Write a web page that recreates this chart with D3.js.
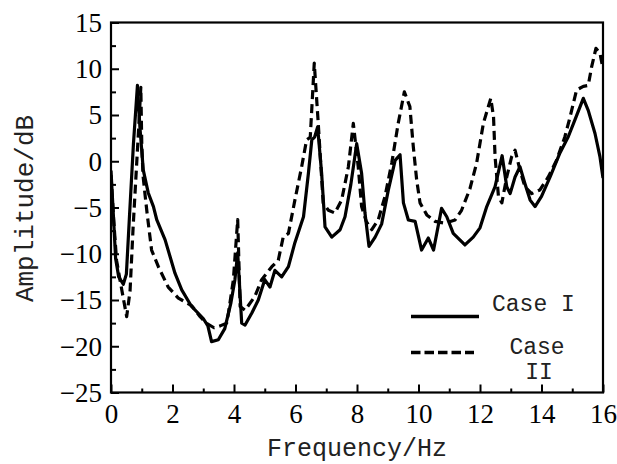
<!DOCTYPE html>
<html>
<head>
<meta charset="utf-8">
<script src="https://cdn.jsdelivr.net/npm/d3@7"></script>
<style>
html,body{margin:0;padding:0;background:#fff;}
svg{display:block;}
</style>
</head>
<body>
<svg id="chart" width="617" height="464"></svg>
<script>
// ---- data ----
const freqCaseI = [0,0.08,0.15,0.25,0.4,0.5,0.6,0.73,0.86,0.94,1.05,1.21,1.38,1.49,1.76,2.08,2.3,2.62,3.0,3.15,3.27,3.49,3.7,3.9,4.03,4.12,4.25,4.36,4.58,4.79,5.0,5.17,5.33,5.55,5.77,5.98,6.26,6.42,6.53,6.62,6.72,6.85,6.96,7.18,7.45,7.61,7.8,7.99,8.15,8.26,8.39,8.59,8.8,9.02,9.24,9.4,9.51,9.67,9.89,10.1,10.32,10.49,10.75,10.92,11.13,11.51,11.78,12.0,12.22,12.49,12.72,12.87,12.98,13.14,13.3,13.46,13.63,13.79,14.0,14.28,14.6,14.87,15.09,15.36,15.52,15.74,15.9,16.0];
const ampCaseI  = [-1,-6,-10.5,-12.5,-13.3,-12.2,-6,1.9,8.2,3.7,-0.95,-3.4,-4.9,-6.35,-8.5,-12.1,-13.9,-15.7,-17,-17.8,-19.5,-19.3,-18.1,-15.3,-12.8,-9.9,-17.5,-17.7,-16.4,-15,-12.8,-13.6,-11.8,-12.5,-11.4,-8.8,-6,-1.3,2.3,2.6,3.7,-1.3,-7.1,-8.2,-7.4,-6,-2.5,1.9,-1.3,-5.6,-9.2,-8.2,-6.8,-3.1,0.1,0.7,-4.5,-6.35,-6.5,-9.6,-8.3,-9.6,-5.1,-6,-7.8,-9.05,-8.2,-7.2,-4.9,-2.75,0.6,-2.75,-3.5,-1.7,-0.6,-2.4,-4.2,-4.9,-3.8,-1.7,0.9,2.65,4.5,6.8,5.5,3.0,0.5,-1.8];

const freqCaseII = [0,0.08,0.18,0.35,0.51,0.62,0.72,0.89,0.97,1.0,1.04,1.1,1.18,1.32,1.54,1.86,2.19,2.3,2.62,2.9,3.1,3.35,3.55,3.76,3.82,3.98,4.12,4.2,4.36,4.68,4.9,5.23,5.44,5.6,5.77,5.98,6.2,6.36,6.48,6.61,6.74,6.9,7.07,7.28,7.5,7.72,7.88,8.04,8.15,8.3,8.48,8.69,8.91,9.13,9.34,9.54,9.72,9.83,9.94,10.05,10.27,10.54,10.86,11.19,11.4,11.67,11.89,12.11,12.35,12.44,12.49,12.6,12.71,12.87,13.03,13.14,13.3,13.46,13.68,13.95,14.22,14.49,14.76,14.93,15.14,15.36,15.52,15.63,15.77,15.9,16.0];
const ampCaseII  = [-1.5,-6,-10.7,-13.9,-16.8,-14,-7.1,3,8.0,2,-1.5,-3.4,-5.8,-9.6,-11.4,-13.6,-14.8,-15,-15.6,-16.8,-17.5,-18.0,-17.8,-17.5,-16.4,-12.8,-6.3,-15.7,-16.1,-14.6,-12.8,-11.4,-10.7,-8.2,-7.8,-4.2,-0.6,2.3,2.6,10.6,4.1,-4.5,-5.3,-5.6,-4.2,-0.6,4.1,-0.6,-4.9,-6.5,-7.4,-6.35,-3.8,-0.2,4.1,7.5,5.9,1.6,-2,-4.5,-5.8,-6.5,-6.7,-6.35,-5.3,-3,-0.2,4.1,6.8,4.8,0.5,-3.8,-4.5,-1.7,0.5,1.2,-0.95,-2.75,-3.5,-3.1,-1.7,0.1,2.65,4.8,7.7,8.1,8.2,10.2,12.2,11.7,10];

const xMajorTicks = [0,2,4,6,8,10,12,14,16];
const xMinorTicks = [1,3,5,7,9,11,13,15];
const yMajorTicks = [-25,-20,-15,-10,-5,0,5,10,15];
const yMinorTicks = [-22.5,-17.5,-12.5,-7.5,-2.5,2.5,7.5,12.5];
const xTitle = "Frequency/Hz";
const yTitle = "Amplitude/dB";
const seriesNames = ["Case I", "Case", "II"];

// ---- layout ----
const svg = d3.select("#chart");
const L = 111, R = 603, T = 22.5, B = 392.5;
const x = d3.scaleLinear().domain([0,16]).range([L,R]);
const y = d3.scaleLinear().domain([-25,15]).range([B,T]);

// axes (ticks inward)
const gxMaj = svg.append("g").attr("transform",`translate(0,${B})`)
  .call(d3.axisBottom(x).tickValues(xMajorTicks).tickSize(-8).tickFormat(d3.format("d")));
const gxMin = svg.append("g").attr("transform",`translate(0,${B})`)
  .call(d3.axisBottom(x).tickValues(xMinorTicks).tickSize(-4).tickFormat(""));
const gyMaj = svg.append("g").attr("transform",`translate(${L},0)`)
  .call(d3.axisLeft(y).tickValues(yMajorTicks).tickSize(-8).tickFormat(d3.format("d")));
const gyMin = svg.append("g").attr("transform",`translate(${L},0)`)
  .call(d3.axisLeft(y).tickValues(yMinorTicks).tickSize(-5).tickFormat(""));

[gxMaj,gxMin,gyMaj,gyMin].forEach(g=>{
  g.select(".domain").remove();
  g.selectAll(".tick line").attr("stroke","#000").attr("stroke-width",2);
});
gxMaj.selectAll(".tick text")
  .attr("y",30.5).attr("dy",0)
  .style("font-family","'Liberation Serif','Times New Roman',serif")
  .style("font-size","27px").attr("fill","#000");
gyMaj.selectAll(".tick text")
  .attr("x",-9).attr("dy","0.33em")
  .style("font-family","'Liberation Serif','Times New Roman',serif")
  .style("font-size","27px").attr("fill","#000");

// frame
svg.append("rect").attr("x",L).attr("y",T).attr("width",R-L).attr("height",B-T)
  .attr("fill","none").attr("stroke","#000").attr("stroke-width",2.2);

// series
const clip = svg.append("clipPath").attr("id","clip").append("rect")
  .attr("x",L).attr("y",T).attr("width",R-L).attr("height",B-T);

const line = d3.line().x(d=>x(d[0])).y(d=>y(d[1])).curve(d3.curveLinear);
const dataI = freqCaseI.map((f,i)=>[f,ampCaseI[i]]);
const dataII = freqCaseII.map((f,i)=>[f,ampCaseII[i]]);

svg.append("path").datum(dataII).attr("d",line).attr("clip-path","url(#clip)")
  .attr("fill","none").attr("stroke","#000").attr("stroke-width",3.2)
  .attr("stroke-dasharray","9,5").attr("stroke-linejoin","round");
svg.append("path").datum(dataI).attr("d",line).attr("clip-path","url(#clip)")
  .attr("fill","none").attr("stroke","#000").attr("stroke-width",3.2)
  .attr("stroke-linejoin","round");

// axis titles
const mono = "'Liberation Mono','Courier New',monospace";
svg.append("text").attr("x",(L+R)/2).attr("y",456).attr("text-anchor","middle")
  .style("font-family",mono).style("font-size","25px").attr("fill","#222").text(xTitle);
svg.append("text").attr("transform",`translate(33,${(T+B)/2+1}) rotate(-90)`).attr("text-anchor","middle")
  .style("font-family",mono).style("font-size","26px").attr("fill","#222").text(yTitle);

// legend
svg.append("line").attr("x1",411).attr("x2",479).attr("y1",316.5).attr("y2",316.5)
  .attr("stroke","#000").attr("stroke-width",3.5);
svg.append("text").attr("x",492).attr("y",311)
  .style("font-family",mono).style("font-size","23px").attr("fill","#222").text(seriesNames[0]);
svg.append("line").attr("x1",411).attr("x2",474).attr("y1",352.5).attr("y2",352.5)
  .attr("stroke","#000").attr("stroke-width",3.5).attr("stroke-dasharray","9.5,4");
svg.append("text").attr("x",537).attr("y",354).attr("text-anchor","middle")
  .style("font-family",mono).style("font-size","23px").attr("fill","#222").text(seriesNames[1]);
svg.append("text").attr("x",539).attr("y",379).attr("text-anchor","middle")
  .style("font-family",mono).style("font-size","23px").attr("fill","#222").text(seriesNames[2]);
</script>
</body>
</html>
